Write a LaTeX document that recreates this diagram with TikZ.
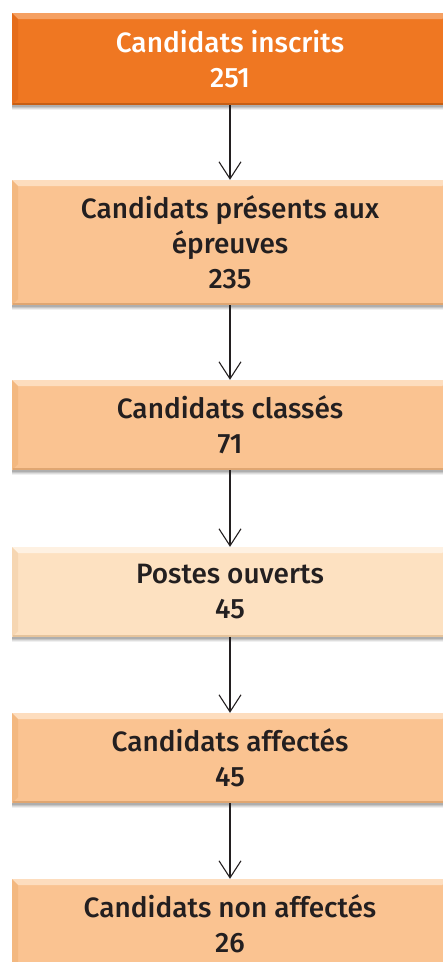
\documentclass[tikz,border=0pt]{standalone}
\usepackage{fontspec}
\setmainfont{Fira Sans Medium}
\usetikzlibrary{arrows.meta}

\definecolor{deeporange}{HTML}{EF7722}
\definecolor{deeporangetop}{HTML}{F5A062}
\definecolor{deeporangeside}{HTML}{E56D1B}
\definecolor{deeporangelow}{HTML}{C65E14}
\definecolor{peach}{HTML}{FAC391}
\definecolor{peachtop}{HTML}{FDDDBE}
\definecolor{peachside}{HTML}{F3B880}
\definecolor{peachlow}{HTML}{DFA672}
\definecolor{cream}{HTML}{FDE1C1}
\definecolor{creamtop}{HTML}{FEF1E2}
\definecolor{creamside}{HTML}{F6D6B2}
\definecolor{creamlow}{HTML}{E6C49C}
\definecolor{inkdark}{HTML}{231F20}

\tikzset{
  stagebox/.style n args={3}{
    rectangle, minimum width=436pt, inner sep=0pt, align=center,
    font=\fontsize{28}{35}\selectfont, fill=#1,
    path picture={
      \coordinate (nw) at (path picture bounding box.north west);
      \coordinate (ne) at (path picture bounding box.north east);
      \coordinate (sw) at (path picture bounding box.south west);
      \coordinate (se) at (path picture bounding box.south east);
      \fill[#2] (nw) -- (ne) -- ([shift={(-6pt,-6pt)}]ne) -- ([shift={(6pt,-6pt)}]nw) -- cycle;
      \fill[#3] (nw) -- ([shift={(6pt,-6pt)}]nw) -- ([shift={(6pt,6pt)}]sw) -- (sw) -- cycle;
    }
  },
  bottomedge/.style={line width=2.5pt},
  flow/.style={draw=inkdark, line width=1.1pt, -{Straight Barb[length=17pt,width=22pt,line width=1.1pt]}},
}

% soft shadow beneath a box
\newcommand{\boxshadow}[2]{%
  \foreach \o/\a in {5/0.06,4/0.08,3/0.1,2/0.12}{
    \fill[black, opacity=\a] (12,#1+\o) rectangle (450,#2+\o);
  }%
}

\begin{document}
\begin{tikzpicture}[x=1pt, y=-1pt]
  \useasboundingbox (0,0) rectangle (443,962);

  \boxshadow{13}{105}
  \boxshadow{180}{305}
  \boxshadow{380}{470}
  \boxshadow{547}{637}
  \boxshadow{713}{803}
  \boxshadow{879}{969}

  \node[stagebox={deeporange}{deeporangetop}{deeporangeside}, minimum height=92pt, text=white]
    (inscrits) at (230,59) {Candidats inscrits\\251};
  \node[stagebox={peach}{peachtop}{peachside}, minimum height=125pt, text=inkdark]
    (presents) at (230,242.5) {Candidats présents aux\\épreuves\\235};
  \node[stagebox={peach}{peachtop}{peachside}, minimum height=90pt, text=inkdark]
    (classes) at (230,425) {Candidats classés\\71};
  \node[stagebox={cream}{creamtop}{creamside}, minimum height=90pt, text=inkdark]
    (postes) at (230,592) {Postes ouverts\\45};
  \node[stagebox={peach}{peachtop}{peachside}, minimum height=90pt, text=inkdark]
    (affectes) at (230,758) {Candidats affectés\\45};
  \node[stagebox={peach}{peachtop}{peachside}, minimum height=90pt, text=inkdark]
    (nonaffectes) at (230,924) {Candidats non affectés\\26};

  % darker lower rims
  \draw[bottomedge, deeporangelow] ([xshift=1pt,yshift=1.2pt]inscrits.south west) -- ([yshift=1.2pt]inscrits.south east);
  \foreach \n in {presents,classes,affectes}{
    \draw[bottomedge, peachlow] ([xshift=1pt,yshift=1.2pt]\n.south west) -- ([yshift=1.2pt]\n.south east);
  }
  \draw[bottomedge, creamlow] ([xshift=1pt,yshift=1.2pt]postes.south west) -- ([yshift=1.2pt]postes.south east);

  \draw[flow] (inscrits) -- (presents);
  \draw[flow] (presents) -- (classes);
  \draw[flow] (classes) -- (postes);
  \draw[flow] (postes) -- (affectes);
  \draw[flow] (affectes) -- (nonaffectes);
\end{tikzpicture}
\end{document}
